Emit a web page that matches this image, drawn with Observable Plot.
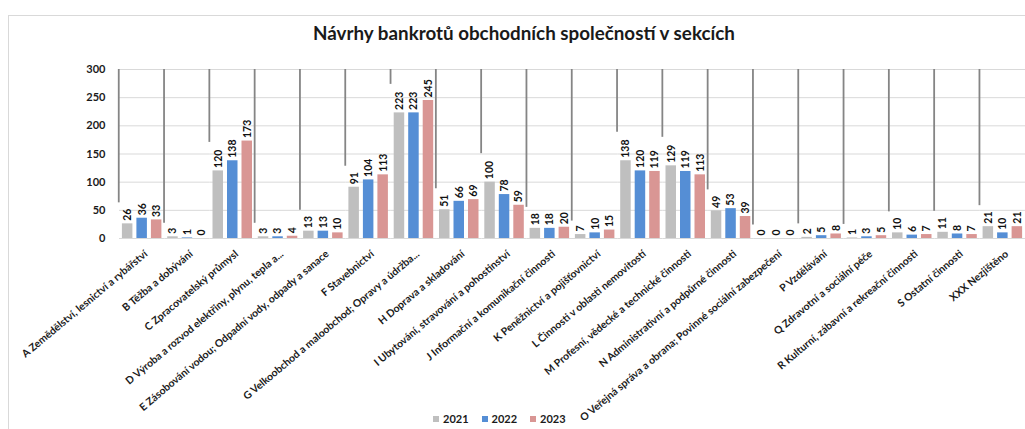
<!DOCTYPE html>
<html>
<head>
<meta charset="utf-8">
<script src="https://cdn.jsdelivr.net/npm/d3@7"></script>
<script src="https://cdn.jsdelivr.net/npm/@observablehq/plot@0.6"></script>
<style>
  html, body { margin: 0; padding: 0; background: #fff; }
  #chart { position: relative; width: 1025px; height: 429px; overflow: hidden; font-family: Lato, "Open Sans", sans-serif; }
  #frame { position: absolute; left: 8px; top: 15px; width: 1100px; height: 500px; border-left: 1px solid #d9d9d9; border-top: 1px solid #d9d9d9; }
  #title { position: relative; height: 52px; box-sizing: border-box; padding-top: 23px; padding-left: 23px; text-align: center; font-size: 18.8px; line-height: 20px; font-weight: bold; color: #1a1a1a; }
  #plot { position: relative; }
  #legend { position: absolute; left: 433px; top: 412px; display: flex; align-items: center; font-size: 11px; font-weight: bold; color: #1a1a1a; line-height: 14px; }
  #legend .item { display: flex; align-items: center; margin-right: 13px; }
  #legend .sw { width: 6px; height: 6px; margin-right: 4px; }
  svg g[aria-label="fx-axis tick label"] text { font-size: 10.4px; font-weight: bold; }
  svg g[aria-label="y-axis tick label"] text { font-size: 11px; font-weight: bold; }
</style>
</head>
<body>
<div id="chart">
  <div id="frame"></div>
  <div id="title">Návrhy bankrotů obchodních společností v sekcích</div>
  <div id="plot"></div>
  <div id="legend"></div>
</div>
<script>
const categories = [
  "A Zemědělství, lesnictví a rybářství",
  "B Těžba a dobývání",
  "C Zpracovatelský průmysl",
  "D Výroba a rozvod elektřiny, plynu, tepla a...",
  "E Zásobování vodou; Odpadní vody, odpady a sanace",
  "F Stavebnictví",
  "G Velkoobchod a maloobchod; Opravy a údržba...",
  "H Doprava a skladování",
  "I Ubytování, stravování a pohostinství",
  "J Informační a komunikační činnosti",
  "K Peněžnictví a pojišťovnictví",
  "L Činnosti v oblasti nemovitostí",
  "M Profesní, vědecké a technické činnosti",
  "N Administrativní a podpůrné činnosti",
  "O Veřejná správa a obrana; Povinné sociální zabezpečení",
  "P Vzdělávání",
  "Q Zdravotní a sociální péče",
  "R Kulturní, zábavní a rekreační činnosti",
  "S Ostatní činnosti",
  "XXX Nezjištěno"
];
const years = ["2021", "2022", "2023"];
const values2021 = [26, 3, 120, 3, 13, 91, 223, 51, 100, 18, 7, 138, 129, 49, 0, 2, 1, 10, 11, 21];
const values2022 = [36, 1, 138, 3, 13, 104, 223, 66, 78, 18, 10, 120, 119, 53, 0, 5, 3, 6, 8, 10];
const values2023 = [33, 0, 173, 4, 10, 113, 245, 69, 59, 20, 15, 119, 113, 39, 0, 8, 5, 7, 7, 21];
const yTicks = [0, 50, 100, 150, 200, 250, 300];
const colors = ["#bfbfbf", "#558ed5", "#d99694"];

const series = [values2021, values2022, values2023];
const data = categories.flatMap((cat, i) => years.map((year, j) => ({cat, year, value: series[j][i]})));

// Category separator lines are hidden behind the first bar's label box (as in the original).
const pxPerUnit = 169 / 300;
const labelBoxTop = d => d.value + (6 + 7.5 * String(d.value).length) / pxPerUnit;

const chart = Plot.plot({
  width: 1025,
  height: 377,
  marginTop: 17,
  marginBottom: 191,
  marginLeft: 119,
  marginRight: 0,
  style: {fontFamily: "Lato, 'Open Sans', sans-serif", fontSize: "10px", color: "#1a1a1a", background: "transparent", overflow: "visible"},
  fx: {domain: categories, padding: 0, round: false, label: null},
  x: {domain: years, axis: null, round: false, paddingInner: 0.276, paddingOuter: 0.2},
  y: {domain: [0, 300], ticks: yTicks, tickSize: 0, tickPadding: 14, label: null},
  color: {domain: years, range: colors},
  marks: [
    Plot.gridY(yTicks, {stroke: "#d9d9d9", strokeOpacity: 1}),
    Plot.axisFx({anchor: "bottom", tickRotate: -40, tickSize: 0, tickPadding: 14, dx: 4, label: null}),
    Plot.ruleX(data.filter(d => d.year === years[0]), {fx: "cat", x: "year", y1: () => 300, y2: labelBoxTop, dx: -8.9, stroke: "#858585", strokeWidth: 1.8}),
    Plot.barY(data, {fx: "cat", x: "year", y: "value", fill: "year"}),
    Plot.text(data, {fx: "cat", x: "year", y: "value", text: d => String(d.value), rotate: -90, textAnchor: "start", dy: -3, fontWeight: "bold", fontSize: 10.5, fill: "#111"})
  ]
});
document.getElementById("plot").appendChild(chart);

const legend = document.getElementById("legend");
years.forEach((y, i) => {
  const item = document.createElement("span");
  item.className = "item";
  const sw = document.createElement("span");
  sw.className = "sw";
  sw.style.background = colors[i];
  item.appendChild(sw);
  item.appendChild(document.createTextNode(y));
  legend.appendChild(item);
});
</script>
</body>
</html>
